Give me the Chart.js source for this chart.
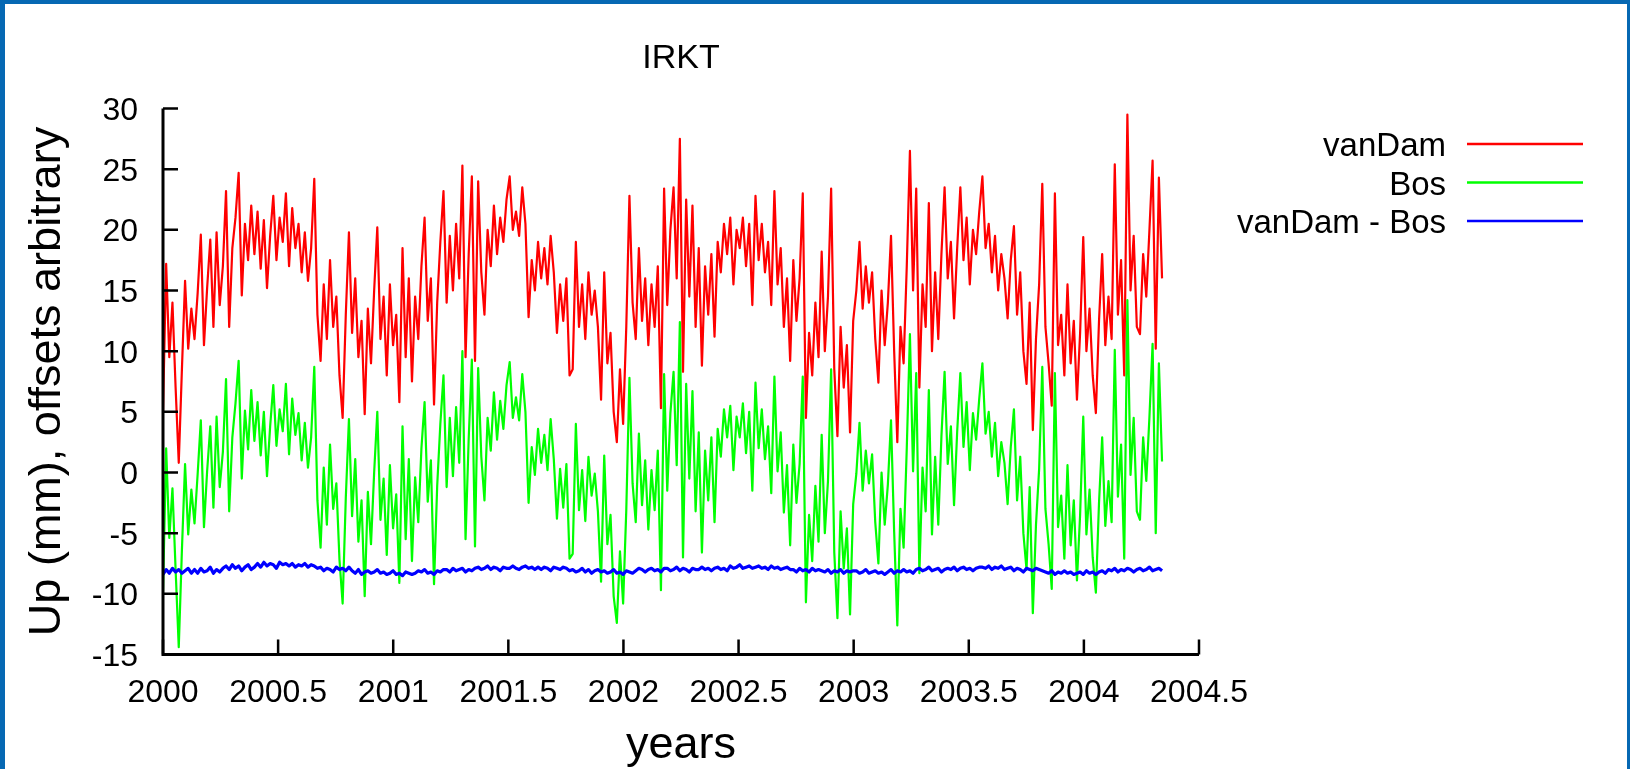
<!DOCTYPE html>
<html>
<head>
<meta charset="utf-8">
<title>IRKT</title>
<script src="https://cdn.jsdelivr.net/npm/chart.js@4.4.0/dist/chart.umd.min.js"></script>
<style>
  html, body { margin: 0; padding: 0; background: #fff; }
  canvas { display: block; }
</style>
</head>
<body>
<canvas id="plot" width="1630" height="769"></canvas>
<script>
// IRKT up component, one sample every 5 days starting at 2000.0
const firstEpoch = 2000.0;
const stepDays = 5;

const vanDam = [
  5.0, 17.2, 9.5, 14.0, 7.0, 0.8, 8.5, 15.8, 10.2, 13.5,
  11.0, 14.8, 19.6, 10.5, 15.2, 19.2, 12.0, 19.8, 13.8, 17.0,
  23.2, 12.0, 18.5, 21.0, 24.7, 14.6, 20.5, 17.5, 22.0, 18.0,
  21.5, 16.8, 20.8, 15.2, 19.5, 22.8, 17.5, 21.0, 19.0, 23.0,
  17.0, 21.8, 18.5, 20.5, 16.5, 19.8, 15.8, 18.5, 24.2, 13.0,
  9.2, 15.5, 11.0, 17.5, 12.0, 14.5, 8.0, 4.5, 13.0, 19.8,
  11.5, 16.0, 9.5, 12.5, 4.8, 13.5, 9.0, 15.0, 20.2, 11.0,
  14.5, 8.0, 15.5, 10.5, 13.0, 5.8, 18.5, 9.5, 16.0, 7.5,
  14.5, 11.0, 17.0, 21.0, 12.5, 16.0, 5.6, 14.0, 19.0, 23.2,
  14.0, 19.5, 15.0, 20.5, 16.0, 25.3, 9.5, 18.0, 24.4, 9.2,
  24.0, 16.5, 13.0, 20.0, 17.0, 22.0, 18.0, 21.0, 19.0, 22.5,
  24.4, 20.0, 21.5, 19.5, 23.5, 20.5, 12.8, 17.5, 15.0, 19.0,
  16.0, 18.5, 15.5, 19.5, 16.5, 11.5, 15.5, 12.5, 16.0, 8.0,
  8.5, 19.0, 12.0, 15.5, 11.0, 16.5, 13.0, 15.0, 12.0, 6.0,
  16.5, 9.0, 11.5, 5.0, 2.5, 8.5, 4.0, 12.0, 22.8, 14.0,
  11.0, 18.5, 12.5, 16.0, 10.5, 15.5, 12.0, 17.0, 5.3, 23.4,
  13.8, 20.0, 23.5, 16.0, 27.5, 8.3, 22.5, 14.5, 22.0, 12.0,
  18.5, 8.8, 17.0, 13.0, 18.0, 11.2, 19.0, 16.5, 20.5, 18.0,
  21.0, 15.5, 20.0, 18.5, 21.0, 17.0, 20.5, 13.8, 22.8, 17.5,
  20.5, 16.5, 19.0, 13.8, 23.2, 15.5, 18.5, 12.0, 16.0, 9.2,
  17.5, 12.5, 16.0, 23.0, 4.5, 11.5, 8.0, 14.0, 9.5, 18.2,
  10.0, 14.5, 23.4, 8.5, 3.0, 12.0, 7.0, 10.5, 3.3, 12.5,
  15.0, 19.0, 13.5, 17.0, 14.0, 16.5, 11.0, 7.4, 15.0, 10.5,
  14.0, 19.5, 10.0, 2.5, 12.0, 9.0, 17.0, 26.5, 15.0, 23.4,
  7.0, 15.5, 12.0, 22.2, 10.0, 16.5, 11.0, 18.0, 23.5, 16.0,
  19.0, 12.7, 18.5, 23.5, 17.5, 21.0, 15.5, 20.0, 18.0, 21.5,
  24.4, 18.5, 20.5, 16.5, 19.5, 15.0, 18.0, 16.0, 12.7, 17.5,
  20.3, 13.0, 16.5, 10.0, 7.3, 14.0, 3.5, 11.0, 15.5, 23.8,
  12.0, 9.0, 5.5, 23.0, 10.5, 13.0, 8.0, 15.5, 9.0, 12.5,
  6.0, 11.5, 19.4, 10.0, 13.5, 8.0, 4.9, 12.5, 18.0, 10.5,
  14.5, 11.0, 25.4, 13.0, 17.5, 8.0, 29.5, 15.0, 19.5, 12.0,
  11.4, 18.0, 14.5, 20.0, 25.7, 10.2, 24.3, 16.0
];

const bos = [
  -9.8, 2.0, -5.4, -1.3, -8.0, -14.4, -6.4, 0.7, -5.1, -1.4,
  -4.2, -0.1, 4.3, -4.5, 0.1, 3.8, -2.9, 4.6, -1.2, 1.7,
  7.7, -3.2, 2.9, 5.7, 9.2, -0.5, 5.1, 1.9, 6.8, 2.6,
  5.8, 1.4, 5.0, -0.3, 3.8, 7.2, 2.2, 5.2, 3.4, 7.3,
  1.5, 6.1, 3.1, 4.9, 1.0, 4.1, 0.4, 2.9, 8.7, -2.3,
  -6.2, 0.4, -4.3, 2.3, -3.0, -0.9, -7.2, -10.8, -2.1, 4.4,
  -3.6, 1.1, -5.7, -2.3, -10.2, -1.6, -5.9, 0.0, 5.0, -3.9,
  -0.5, -6.8, 0.6, -4.6, -1.8, -9.1, 3.8, -5.5, 1.1, -7.3,
  -0.4, -4.1, 2.0, 5.8, -2.4, 1.0, -9.2, -1.1, 4.0, 8.0,
  -1.2, 4.5, -0.3, 5.4, 0.8, 10.0, -5.5, 2.8, 9.3, -6.1,
  8.6, 1.3, -2.3, 4.5, 1.8, 6.6, 2.7, 5.9, 3.6, 7.2,
  9.1, 4.5, 6.2, 4.3, 8.1, 5.0, -2.5, 2.1, -0.2, 3.6,
  0.8, 3.1, 0.2, 4.4, 1.1, -3.8, 0.3, -2.9, 0.7, -7.1,
  -6.7, 4.0, -3.1, 0.2, -4.0, 1.3, -1.9, -0.1, -3.2, -9.0,
  1.4, -5.9, -3.5, -10.2, -12.4, -6.5, -10.8, -3.1, 7.8, -0.9,
  -4.1, 3.2, -2.7, 1.0, -4.7, 0.2, -3.1, 1.8, -9.7, 8.1,
  -1.5, 4.9, 8.3, 0.6, 12.4, -7.0, 7.3, -0.5, 6.7, -3.2,
  3.3, -6.6, 1.8, -2.3, 2.9, -4.1, 3.6, 1.3, 5.2, 2.9,
  5.5, 0.2, 4.6, 2.9, 5.7, 1.6, 5.0, -1.5, 7.4, 2.0,
  5.2, 1.1, 3.8, -1.7, 7.9, 0.1, 3.3, -3.3, 0.6, -6.0,
  2.3, -2.5, 0.7, 7.9, -10.7, -3.5, -7.3, -1.1, -5.7, 3.1,
  -5.0, -0.7, 8.5, -6.6, -12.0, -3.2, -7.9, -4.6, -11.7, -2.6,
  -0.1, 4.1, -1.5, 1.8, -0.9, 1.5, -4.1, -7.5, 0.0, -4.3,
  -1.0, 4.3, -4.9, -12.6, -3.0, -6.2, 2.0, 11.4, 0.1, 8.2,
  -8.3, 0.4, -3.2, 6.8, -5.1, 1.3, -4.3, 3.0, 8.3, 0.7,
  3.8, -2.7, 3.4, 8.2, 2.1, 5.8, 0.2, 4.9, 2.7, 6.1,
  9.0, 3.2, 5.0, 1.3, 4.1, -0.3, 2.5, 0.8, -2.6, 2.1,
  5.2, -2.3, 1.3, -5.0, -8.0, -1.2, -11.6, -4.3, 0.3, 8.7,
  -3.0, -5.9, -9.6, 8.2, -4.5, -1.9, -7.1, 0.6, -6.0, -2.3,
  -8.9, -3.5, 4.6, -5.1, -1.4, -7.0, -9.9, -2.5, 2.9, -4.4,
  -0.7, -4.1, 10.1, -2.0, 2.3, -7.1, 14.2, -0.2, 4.5, -3.2,
  -3.9, 2.9, -0.7, 4.6, 10.6, -5.0, 9.0, 0.9
];

const vanDamMinusBos = [
  -8.4, -8.0, -8.3, -7.9, -8.2, -8.0, -8.3, -8.1, -7.9, -8.3,
  -8.0, -8.3, -7.9, -8.2, -8.1, -7.8, -8.3, -8.0, -8.2, -7.9,
  -7.7, -8.0, -7.6, -7.9, -7.7, -8.1, -7.8, -7.6, -8.0, -7.8,
  -7.5, -7.8, -7.4, -7.7, -7.5, -7.6, -7.9, -7.4, -7.6, -7.5,
  -7.7, -7.5, -7.8, -7.6, -7.7, -7.5, -7.8, -7.6, -7.7, -7.9,
  -7.8, -8.1, -7.9, -8.0, -8.2, -7.8, -8.0, -7.9, -8.1, -7.8,
  -8.1, -8.3, -8.0, -8.4, -8.2, -8.1, -8.3, -8.2, -8.0, -8.3,
  -8.2, -8.4, -8.3, -8.1, -8.4, -8.3, -8.5, -8.2, -8.3, -8.4,
  -8.3, -8.1, -8.2, -8.0, -8.3, -8.2, -8.4, -8.1, -8.2, -8.0,
  -8.0, -8.2, -7.9, -8.1, -8.0, -7.9, -8.2, -8.0, -8.1, -7.9,
  -7.8, -8.0, -7.9, -7.7, -8.0, -7.8, -7.9, -8.1, -7.8, -7.9,
  -7.9, -7.7, -7.9, -8.0, -7.8, -7.7, -7.9, -7.8, -8.0, -7.8,
  -8.0, -7.8, -7.9, -8.1, -7.8, -7.9, -8.0, -7.8, -7.9, -8.1,
  -8.0, -8.2, -8.1, -7.9, -8.2, -8.0, -8.3, -8.1, -8.0, -8.2,
  -8.1, -8.3, -8.2, -8.0, -8.3, -8.2, -8.4, -8.1, -8.2, -8.3,
  -8.1, -7.9, -8.0, -8.2, -8.0, -7.9, -8.1, -8.0, -8.2, -7.9,
  -7.9, -8.1, -8.0, -7.8, -8.1, -7.9, -8.0, -8.2, -7.9, -8.0,
  -8.0, -7.8, -8.0, -7.9, -8.1, -7.9, -7.8, -8.0, -7.9, -8.1,
  -7.7, -7.9, -7.8, -7.6, -7.9, -7.8, -7.7, -7.9, -7.8, -7.7,
  -7.9, -7.8, -8.0, -7.7, -7.9, -7.8, -8.0, -7.9, -7.8, -8.0,
  -8.0, -8.2, -7.9, -8.1, -8.0, -8.2, -7.9, -8.1, -8.0, -8.1,
  -8.2, -8.0, -8.3, -8.1, -8.2, -8.0, -8.3, -8.1, -8.2, -8.1,
  -8.1, -8.3, -8.2, -8.0, -8.3, -8.2, -8.1, -8.3, -8.2, -8.4,
  -8.2, -8.0, -8.3, -8.1, -8.2, -8.0, -8.2, -8.1, -8.3, -8.0,
  -7.9, -8.1, -8.0, -7.8, -8.1, -8.0, -7.9, -8.2, -8.0, -7.9,
  -8.0, -7.8, -8.1, -7.9, -7.8, -8.0, -7.9, -8.1, -7.9, -7.8,
  -7.8, -7.9, -7.7, -8.0, -7.8, -7.9, -7.7, -8.0, -7.9, -7.8,
  -8.1, -7.9, -8.0, -8.2, -7.9, -8.0, -8.1, -7.9, -8.0, -8.1,
  -8.2, -8.3, -8.1, -8.4, -8.2, -8.3, -8.1, -8.3, -8.2, -8.4,
  -8.3, -8.2, -8.4, -8.1, -8.3, -8.2, -8.4, -8.2, -8.1, -8.3,
  -8.0, -8.1, -7.9, -8.2, -8.0, -8.1, -7.9, -8.0, -8.2, -8.0,
  -7.9, -8.1, -8.0, -7.8, -8.1, -8.0, -7.9, -8.1
];

const xTicks = [2000, 2000.5, 2001, 2001.5, 2002, 2002.5, 2003, 2003.5, 2004, 2004.5];
const xTickLabels = ['2000', '2000.5', '2001', '2001.5', '2002', '2002.5', '2003', '2003.5', '2004', '2004.5'];
const yTicks = [-15, -10, -5, 0, 5, 10, 15, 20, 25, 30];
const yTickLabels = ['-15', '-10', '-5', '0', '5', '10', '15', '20', '25', '30'];

const seriesNames = ['vanDam', 'Bos', 'vanDam - Bos'];
const seriesColors = ['#ff0000', '#00ff00', '#0000ff'];
const seriesWidths = [2.2, 2.2, 3.2];

const FONT = '"Liberation Sans", Arial, Helvetica, sans-serif';

function toPoints(values) {
  return values.map((v, i) => ({ x: firstEpoch + i * stepDays / 365.25, y: v }));
}

// axes, inward ticks, labels, key and the page frame, drawn gnuplot style
const gnuplotDecor = {
  id: 'gnuplotDecor',
  afterDraw(chart) {
    const ctx = chart.ctx;
    const xs = chart.scales.x;
    const ys = chart.scales.y;
    const area = chart.chartArea;
    const tickLen = 15;

    ctx.save();
    ctx.strokeStyle = '#000';
    ctx.lineWidth = 3;
    ctx.lineCap = 'butt';

    // axis lines
    ctx.beginPath();
    ctx.moveTo(area.left, area.top);
    ctx.lineTo(area.left, area.bottom);
    ctx.lineTo(area.right, area.bottom);
    ctx.stroke();

    // tick marks pointing into the plot
    ctx.lineWidth = 2.5;
    ctx.beginPath();
    yTicks.forEach(v => {
      const py = ys.getPixelForValue(v);
      ctx.moveTo(area.left, py);
      ctx.lineTo(area.left + tickLen, py);
    });
    xTicks.forEach(v => {
      const px = xs.getPixelForValue(v);
      ctx.moveTo(px, area.bottom);
      ctx.lineTo(px, area.bottom - tickLen);
    });
    ctx.stroke();

    // tick labels
    ctx.fillStyle = '#000';
    ctx.font = '32px ' + FONT;
    ctx.textBaseline = 'alphabetic';
    ctx.textAlign = 'right';
    yTicks.forEach((v, i) => {
      ctx.fillText(yTickLabels[i], area.left - 25, ys.getPixelForValue(v) + 11.5);
    });
    ctx.textAlign = 'center';
    xTicks.forEach((v, i) => {
      ctx.fillText(xTickLabels[i], xs.getPixelForValue(v), area.bottom + 47.5);
    });

    // title and axis titles
    const midX = (area.left + area.right) / 2;
    const midY = (area.top + area.bottom) / 2;
    ctx.font = '34px ' + FONT;
    ctx.fillText('IRKT', midX, 67.5);
    ctx.font = '45px ' + FONT;
    ctx.fillText('years', midX, 758);
    ctx.save();
    ctx.translate(60, midY);
    ctx.rotate(-Math.PI / 2);
    ctx.fillText('Up (mm), offsets arbitrary', 0, 0);
    ctx.restore();

    // key: right-aligned names with a line sample after each
    ctx.font = '33px ' + FONT;
    ctx.textAlign = 'right';
    ctx.lineWidth = 2.5;
    seriesNames.forEach((name, i) => {
      const base = 156 + i * 38.5;
      ctx.fillStyle = '#000';
      ctx.fillText(name, 1446, base);
      ctx.strokeStyle = seriesColors[i];
      ctx.beginPath();
      ctx.moveTo(1467, base - 12);
      ctx.lineTo(1583, base - 12);
      ctx.stroke();
    });

    // blue page frame
    ctx.fillStyle = '#0668b3';
    ctx.fillRect(0, 0, chart.width, 4);
    ctx.fillRect(0, 0, 5, chart.height);
    ctx.fillRect(chart.width - 3, 0, 3, chart.height);
    ctx.restore();
  }
};

const hiddenAxis = {
  type: 'linear',
  ticks: { display: false },
  grid: { display: false, drawTicks: false },
  border: { display: false }
};

new Chart(document.getElementById('plot'), {
  type: 'line',
  data: {
    datasets: [
      { label: seriesNames[0], data: toPoints(vanDam), borderColor: seriesColors[0], borderWidth: seriesWidths[0], order: 2 },
      { label: seriesNames[1], data: toPoints(bos), borderColor: seriesColors[1], borderWidth: seriesWidths[1], order: 1 },
      { label: seriesNames[2], data: toPoints(vanDamMinusBos), borderColor: seriesColors[2], borderWidth: seriesWidths[2], order: 0 }
    ]
  },
  options: {
    responsive: false,
    animation: false,
    devicePixelRatio: 1,
    layout: { padding: { left: 163, right: 431, top: 108.5, bottom: 114.5 } },
    elements: {
      point: { radius: 0 },
      line: { tension: 0, fill: false, borderJoinStyle: 'round' }
    },
    plugins: {
      legend: { display: false },
      title: { display: false },
      tooltip: { enabled: false }
    },
    scales: {
      x: Object.assign({}, hiddenAxis, {
        min: 2000, max: 2004.5,
        afterFit: s => { s.height = 0; }
      }),
      y: Object.assign({}, hiddenAxis, {
        min: -15, max: 30,
        afterFit: s => { s.width = 0; }
      })
    }
  },
  plugins: [gnuplotDecor]
});
</script>
</body>
</html>
